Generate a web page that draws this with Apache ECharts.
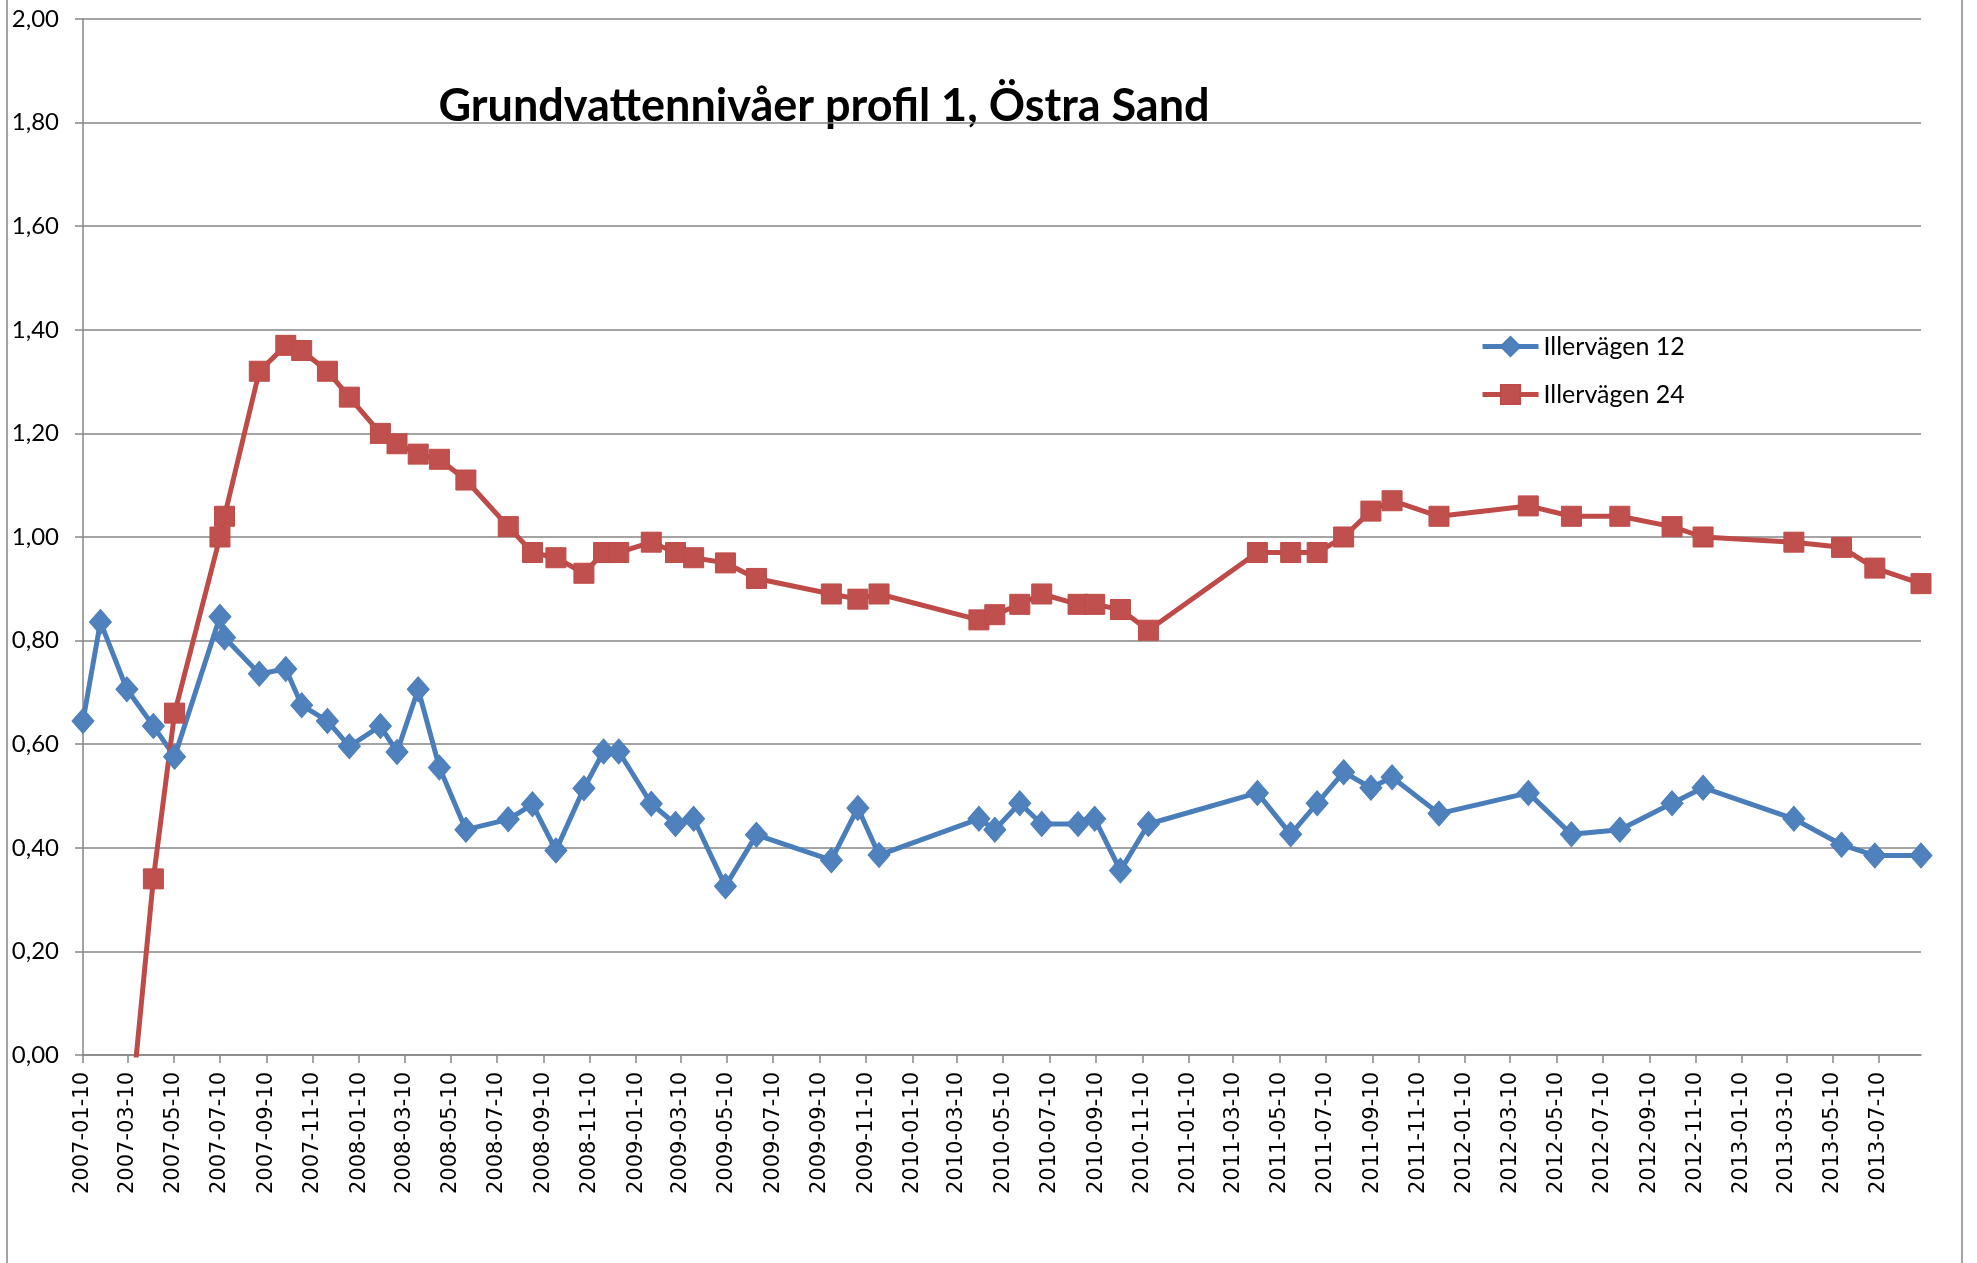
<!DOCTYPE html>
<html>
<head>
<meta charset="utf-8">
<title>Grundvattennivåer profil 1, Östra Sand</title>
<script src="https://cdn.jsdelivr.net/npm/echarts@6.0.0/dist/echarts.min.js"></script>
<style>
  html, body { margin: 0; padding: 0; background: #fff; }
  #chart { width: 1977px; height: 1263px; }
</style>
</head>
<body>
<div id="chart"></div>
<script>
// mätdatum (samma för båda brunnarna)
const dates = [
  '2007-01-10', '2007-02-02', '2007-03-09', '2007-04-13', '2007-05-11',
  '2007-07-10', '2007-07-16', '2007-08-31', '2007-10-05', '2007-10-26',
  '2007-11-29', '2007-12-28', '2008-02-07', '2008-02-29', '2008-03-28',
  '2008-04-25', '2008-05-30', '2008-07-25', '2008-08-26', '2008-09-26',
  '2008-11-02', '2008-11-28', '2008-12-18', '2009-01-30', '2009-03-03',
  '2009-03-27', '2009-05-08', '2009-06-18', '2009-09-25', '2009-10-30',
  '2009-11-27', '2010-04-08', '2010-04-29', '2010-06-01', '2010-06-30',
  '2010-08-17', '2010-09-08', '2010-10-12', '2010-11-18', '2011-04-11',
  '2011-05-25', '2011-06-29', '2011-08-03', '2011-09-08', '2011-10-06',
  '2011-12-07', '2012-04-03', '2012-05-30', '2012-08-02', '2012-10-10',
  '2012-11-20', '2013-03-20', '2013-05-22', '2013-07-05', '2013-09-04'
];

const illervagen12 = [
  0.645, 0.836, 0.706, 0.635, 0.576,
  0.846, 0.806, 0.736, 0.745, 0.675,
  0.645, 0.596, 0.635, 0.585, 0.706,
  0.555, 0.435, 0.455, 0.484, 0.395,
  0.515, 0.586, 0.586, 0.485, 0.446,
  0.456, 0.326, 0.425, 0.376, 0.477,
  0.386, 0.456, 0.435, 0.486, 0.446,
  0.446, 0.456, 0.356, 0.446, 0.506,
  0.426, 0.486, 0.546, 0.516, 0.536,
  0.466, 0.506, 0.426, 0.435, 0.486,
  0.516, 0.456, 0.406, 0.385, 0.385
];

const illervagen24 = [
  null, null, -0.19, 0.34, 0.66,
  1.00, 1.04, 1.32, 1.37, 1.36,
  1.32, 1.27, 1.20, 1.18, 1.16,
  1.15, 1.11, 1.02, 0.97, 0.96,
  0.93, 0.97, 0.97, 0.99, 0.97,
  0.96, 0.95, 0.92, 0.89, 0.88,
  0.89, 0.84, 0.85, 0.87, 0.89,
  0.87, 0.87, 0.86, 0.82, 0.97,
  0.97, 0.97, 1.00, 1.05, 1.07,
  1.04, 1.06, 1.04, 1.04, 1.02,
  1.00, 0.99, 0.98, 0.94, 0.91
];

// etiketter på x-axeln, varannan månad
const tickDates = [
  '2007-01-10', '2007-03-10', '2007-05-10', '2007-07-10', '2007-09-10', '2007-11-10',
  '2008-01-10', '2008-03-10', '2008-05-10', '2008-07-10', '2008-09-10', '2008-11-10',
  '2009-01-10', '2009-03-10', '2009-05-10', '2009-07-10', '2009-09-10', '2009-11-10',
  '2010-01-10', '2010-03-10', '2010-05-10', '2010-07-10', '2010-09-10', '2010-11-10',
  '2011-01-10', '2011-03-10', '2011-05-10', '2011-07-10', '2011-09-10', '2011-11-10',
  '2012-01-10', '2012-03-10', '2012-05-10', '2012-07-10', '2012-09-10', '2012-11-10',
  '2013-01-10', '2013-03-10', '2013-05-10', '2013-07-10'
];

// datum -> tidsstämpel (UTC) så att en vanlig värdeaxel kan användas
const toTime = s => Date.parse(s + 'T00:00:00Z');
const fmtDate = v => new Date(v).toISOString().slice(0, 10);
const tickTimes = tickDates.map(toTime);

const chart = echarts.init(document.getElementById('chart'));
const gray = '#868686';

chart.setOption({
  animation: false,
  backgroundColor: '#fff',
  grid: { left: 83, right: 56, top: 19, bottom: 208, outerBoundsMode: 'none' },
  graphic: [
    { type: 'line', shape: { x1: 7, y1: 0, x2: 7, y2: 1263 }, style: { stroke: gray, lineWidth: 1.5 } },
    { type: 'line', shape: { x1: 1962, y1: 0, x2: 1962, y2: 1263 }, style: { stroke: gray, lineWidth: 1.5 } },
    {
      type: 'text', x: 824, y: 106,
      style: {
        text: 'Grundvattennivåer profil 1, Östra Sand',
        font: 'bold 45px Lato', fill: '#000',
        align: 'center', verticalAlign: 'middle'
      }
    }
  ],
  legend: {
    orient: 'vertical', left: 1475, top: 329,
    itemWidth: 56, itemHeight: 24, itemGap: 23,
    lineStyle: { width: 5 },
    textStyle: { fontFamily: 'Lato', fontSize: 25, color: '#000' },
    data: ['Illervägen 12', 'Illervägen 24']
  },
  xAxis: {
    type: 'value',
    min: toTime(dates[0]), max: toTime(dates[dates.length - 1]),
    axisLine: { onZero: false, lineStyle: { color: gray, width: 1.5 } },
    axisTick: { show: true, length: 8, lineStyle: { color: gray, width: 1.5 }, customValues: tickTimes },
    axisLabel: {
      customValues: tickTimes,
      rotate: 90, margin: 17,
      fontFamily: 'DejaVu Sans', fontSize: 21, color: '#000',
      formatter: v => fmtDate(v)
    },
    splitLine: { show: false }
  },
  yAxis: {
    type: 'value', min: 0, max: 2, interval: 0.2,
    axisLine: { show: true, lineStyle: { color: gray, width: 1.5 } },
    axisTick: { show: true, length: 8, lineStyle: { color: gray, width: 1.5 } },
    axisLabel: {
      margin: 24, fontFamily: 'Lato', fontSize: 24, color: '#000',
      formatter: v => v.toFixed(2).replace('.', ',')
    },
    splitLine: { lineStyle: { color: gray, width: 1.5 } }
  },
  series: [
    {
      name: 'Illervägen 12', type: 'line',
      data: dates.map((d, i) => [toTime(d), illervagen12[i]]),
      symbol: 'diamond', symbolSize: [22, 25],
      lineStyle: { color: '#4A7EBB', width: 5 },
      itemStyle: { color: '#4F81BD', borderColor: '#4A7EBB', borderWidth: 1 }
    },
    {
      name: 'Illervägen 24', type: 'line',
      data: dates.map((d, i) => [toTime(d), illervagen24[i]]),
      symbol: 'rect', symbolSize: 20,
      lineStyle: { color: '#BE4B48', width: 5 },
      itemStyle: { color: '#C0504D', borderColor: '#BE4B48', borderWidth: 1 }
    }
  ]
});
</script>
</body>
</html>
